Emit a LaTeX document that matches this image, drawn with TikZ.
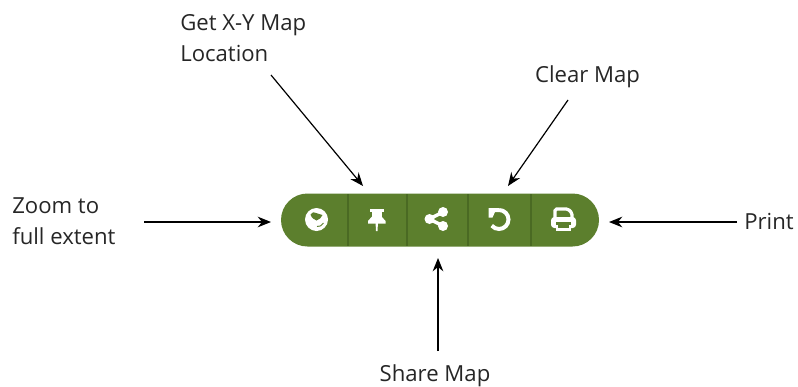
\documentclass[tikz,border=0pt]{standalone}
\usepackage{fontspec}
\setmainfont{Open Sans}
\usetikzlibrary{arrows.meta}
\definecolor{barg}{HTML}{5C7F2D}
\definecolor{divg}{HTML}{4A6A23}
\tikzset{
  lab/.style={font=\fontsize{16.6pt}{23.25pt}\selectfont, text=black!85, inner sep=0pt, align=left},
  arr/.style={draw=black, line width=0.9pt, -{Stealth[length=10pt,width=8pt]}},
  divider/.style={draw=divg, line width=0.8pt},
  ico/.style={fill=white, draw=none},
}
\begin{document}
\begin{tikzpicture}[x=0.75pt,y=-0.75pt]
\useasboundingbox (0,0) rectangle (798,386);
% labels
\node[lab,anchor=west] (zoomlab) at (12,221) {Zoom to\\full extent};
\node[lab,anchor=west] (getlab) at (180,38.5) {Get X-Y Map\\Location};
\node[lab,anchor=center] (clearlab) at (587.5,77) {Clear Map};
\node[lab,anchor=center] (printlab) at (769,221) {Print};
\node[lab,anchor=center] (sharelab) at (435,376) {Share Map};
% bar
\fill[barg, rounded corners=26.5*0.75pt] (281,193.5) rectangle (599,246.5);
\foreach \x in {348,407,468,531} \draw[divider] (\x,194) -- (\x,246);
% globe
\fill[ico] (316.5,219.5) circle[radius=11.5*0.75pt];
\fill[barg] (310.5,214.5) .. controls (312,212) and (314.5,211.5) .. (316,213) .. controls (318,215) and (320,213) .. (322.5,215) .. controls (321.5,218) and (319,219.5) .. (316.5,220.5) .. controls (314,219.5) and (311.5,218) .. (310.5,214.5) -- cycle;
\draw[barg,line width=0.7pt] (317,226.5) .. controls (319.5,227) and (322,225.5) .. (323.5,223);
% pin
\fill[ico] (369.5,208.5) rectangle (384,212);
\fill[ico] (372,211) rectangle (381.5,220);
\fill[ico] (368,221) -- (372,216.5) -- (381.5,216.5) -- (385.5,221) -- (385.5,223.5) -- (368,223.5) -- cycle;
\fill[ico] (375.5,222) -- (378,222) -- (377.5,231) -- (376,231) -- cycle;
% share
\draw[white,line width=2.6pt] (429.5,219) -- (443,212) (429.5,219) -- (443,226);
\fill[ico] (429.5,219) circle[radius=5*0.75pt];
\fill[ico] (443,212) circle[radius=5*0.75pt];
\fill[ico] (443,226) circle[radius=5*0.75pt];
% reload
\draw[white,line width=3pt] (499,210) arc[start angle=90,end angle=-140,radius=9.5*0.75pt];
\fill[ico] (488.5,208) -- (499,208) -- (499,212) -- (495,212) -- (492.5,217.5) -- (488.5,217.5) -- cycle;
% printer
\draw[white,line width=2.4pt,rounded corners=1.2pt] (555,218) -- (555,209) -- (568,209) -- (572,213) -- (572,218);
\fill[ico,rounded corners=2.5pt] (551,217) rectangle (576,228);
\fill[barg] (556,222) rectangle (571,224.5);
\fill[ico] (556,226) rectangle (571,231);
\fill[barg] (558,225) rectangle (569,227.5);
% connectors
\coordinate (zs) at (144,222); \coordinate (ze) at (271,222);
\coordinate (gs) at (271,75);  \coordinate (ge) at (363,186);
\coordinate (cs) at (568,100); \coordinate (ce) at (508,186);
\coordinate (ps) at (737,222); \coordinate (pe) at (609,222);
\coordinate (ss) at (438,351); \coordinate (se) at (438,258);
\draw[arr] (zs) -- (ze);
\draw[arr] (gs) -- (ge);
\draw[arr] (cs) -- (ce);
\draw[arr] (ps) -- (pe);
\draw[arr] (ss) -- (se);
\end{tikzpicture}
\end{document}
